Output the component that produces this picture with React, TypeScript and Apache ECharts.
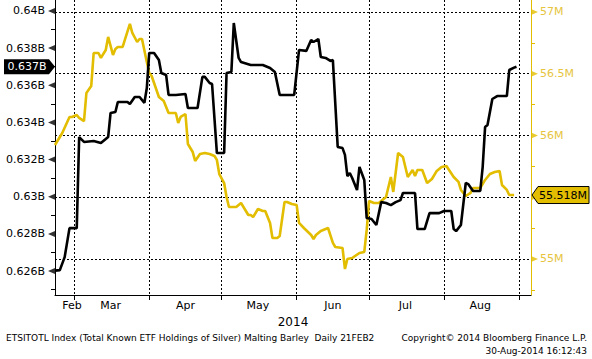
import React, { useEffect, useRef } from 'react';
import * as echarts from 'echarts';

const blackDates = ['2014-02-21','2014-02-23','2014-02-25','2014-02-27','2014-03-02','2014-03-03','2014-03-05','2014-03-09','2014-03-12','2014-03-15','2014-03-16','2014-03-18','2014-03-19','2014-03-23','2014-03-24','2014-03-26','2014-03-28','2014-03-30','2014-03-31','2014-04-01','2014-04-03','2014-04-05','2014-04-06','2014-04-08','2014-04-09','2014-04-12','2014-04-16','2014-04-17','2014-04-21','2014-04-23','2014-04-24','2014-04-26','2014-04-27','2014-04-29','2014-05-02','2014-05-03','2014-05-05','2014-05-06','2014-05-08','2014-05-09','2014-05-13','2014-05-18','2014-05-21','2014-05-23','2014-05-25','2014-05-31','2014-06-02','2014-06-05','2014-06-07','2014-06-08','2014-06-10','2014-06-11','2014-06-13','2014-06-15','2014-06-16','2014-06-18','2014-06-20','2014-06-21','2014-06-22','2014-06-23','2014-06-24','2014-06-26','2014-06-27','2014-06-29','2014-06-30','2014-07-02','2014-07-04','2014-07-06','2014-07-08','2014-07-10','2014-07-12','2014-07-14','2014-07-15','2014-07-20','2014-07-21','2014-07-24','2014-07-26','2014-07-30','2014-08-01','2014-08-04','2014-08-05','2014-08-06','2014-08-08','2014-08-10','2014-08-11','2014-08-13','2014-08-16','2014-08-17','2014-08-18','2014-08-19','2014-08-21','2014-08-23','2014-08-27','2014-08-28','2014-08-30','2014-08-31'];
const blackValues = [0.62602,0.62605,0.62675,0.62831,0.62831,0.63321,0.63295,0.633,0.63289,0.63321,0.63451,0.63456,0.6351,0.6351,0.63499,0.63537,0.63537,0.63505,0.63585,0.63774,0.63774,0.63736,0.63666,0.63655,0.63548,0.63548,0.63553,0.63478,0.63478,0.63645,0.63645,0.63612,0.63607,0.63235,0.63235,0.63666,0.63672,0.63935,0.63747,0.63725,0.63709,0.63709,0.63693,0.63672,0.63548,0.63548,0.6379,0.63785,0.63844,0.63833,0.63849,0.63752,0.63747,0.63731,0.63736,0.63268,0.63262,0.63225,0.63111,0.63128,0.63101,0.63036,0.6316,0.6309,0.62885,0.6288,0.62848,0.62971,0.62966,0.62955,0.62971,0.62982,0.6302,0.6302,0.62826,0.62826,0.62912,0.62912,0.62923,0.62923,0.62826,0.62815,0.62848,0.63074,0.63068,0.63031,0.63031,0.6316,0.63375,0.63386,0.63526,0.63542,0.63542,0.63682,0.63695,0.637];

const yellowDates = ['2014-02-21','2014-02-24','2014-02-27','2014-02-28','2014-03-02','2014-03-03','2014-03-05','2014-03-06','2014-03-08','2014-03-09','2014-03-11','2014-03-12','2014-03-14','2014-03-15','2014-03-17','2014-03-18','2014-03-19','2014-03-21','2014-03-22','2014-03-24','2014-03-25','2014-03-27','2014-03-28','2014-03-29','2014-03-31','2014-04-01','2014-04-02','2014-04-03','2014-04-05','2014-04-07','2014-04-09','2014-04-12','2014-04-13','2014-04-14','2014-04-16','2014-04-17','2014-04-19','2014-04-20','2014-04-22','2014-04-24','2014-04-26','2014-04-28','2014-04-29','2014-04-30','2014-05-02','2014-05-03','2014-05-04','2014-05-07','2014-05-09','2014-05-10','2014-05-12','2014-05-13','2014-05-14','2014-05-16','2014-05-18','2014-05-19','2014-05-21','2014-05-22','2014-05-24','2014-05-25','2014-05-27','2014-05-28','2014-05-30','2014-06-01','2014-06-02','2014-06-04','2014-06-07','2014-06-08','2014-06-09','2014-06-11','2014-06-14','2014-06-16','2014-06-17','2014-06-20','2014-06-21','2014-06-22','2014-06-24','2014-06-27','2014-06-29','2014-06-30','2014-07-01','2014-07-03','2014-07-05','2014-07-08','2014-07-09','2014-07-10','2014-07-11','2014-07-13','2014-07-15','2014-07-17','2014-07-19','2014-07-20','2014-07-21','2014-07-23','2014-07-25','2014-07-27','2014-07-29','2014-07-31','2014-08-02','2014-08-05','2014-08-07','2014-08-08','2014-08-10','2014-08-12','2014-08-13','2014-08-16','2014-08-18','2014-08-20','2014-08-22','2014-08-24','2014-08-25','2014-08-27','2014-08-28','2014-08-30'];
const yellowValues = [55.923,56.02,56.15,56.15,56.166,56.142,56.117,56.344,56.401,56.668,56.668,56.628,56.692,56.798,56.652,56.7,56.717,56.717,56.781,56.903,56.83,56.757,56.781,56.781,56.595,56.506,56.482,56.425,56.312,56.279,56.182,56.182,56.101,56.15,56.174,55.931,55.866,55.794,55.85,55.858,55.85,55.834,55.802,55.688,55.615,55.502,55.421,55.421,55.453,55.421,55.356,55.356,55.34,55.405,55.389,55.389,55.292,55.17,55.17,55.186,55.462,55.462,55.445,55.437,55.292,55.251,55.194,55.162,55.194,55.227,55.251,55.13,55.097,55.089,54.919,55.0,55.008,55.049,55.057,55.235,55.47,55.453,55.453,55.502,55.583,55.664,55.543,55.858,55.826,55.664,55.721,55.672,55.721,55.721,55.615,55.648,55.713,55.745,55.753,55.664,55.624,55.559,55.51,55.535,55.575,55.575,55.64,55.688,55.704,55.713,55.599,55.559,55.518,55.518];

const leftTicks = [0.626, 0.628, 0.63, 0.632, 0.634, 0.636, 0.638, 0.64];
const leftMinorTicks = [0.625, 0.627, 0.629, 0.631, 0.633, 0.635, 0.637, 0.639];
const rightTicks = [55, 55.5, 56, 56.5, 57];
const rightLabelValues = [55, 56, 56.5, 57];
const rightMinorTicks = [54.75, 55.25, 55.75, 56.25, 56.75];
const monthStarts = ['2014-03-01','2014-04-01','2014-05-01','2014-06-01','2014-07-01','2014-08-01','2014-09-01'];
const monthLabelDates = ['2014-02-28','2014-03-16','2014-04-16','2014-05-16','2014-06-16','2014-07-16','2014-08-16'];
const monthNames = ['Feb','Mar','Apr','May','Jun','Jul','Aug'];
const yearLabel = '2014';
const xStart = '2014-02-21';
const xEnd = '2014-09-06';
const leftRange = [0.62471, 0.64059];
const rightRange = [54.7085, 57.097];
const blackFlag = '0.637B';
const yellowFlag = '55.518M';
const footerLeft = 'ETSITOTL Index (Total Known ETF Holdings of Silver) Malting Barley  Daily 21FEB2';
const footerRight1 = 'Copyright\u00A9 2014 Bloomberg Finance L.P.';
const footerRight2 = '30-Aug-2014 16:12:43';

const YELLOW = '#E2BD00';
const YELLOW_TEXT = '#E6C440';
const FONT = '"DejaVu Sans", Verdana, sans-serif';

const ts = (s: string) => {
  const [y, m, d] = s.split('-').map(Number);
  return Date.UTC(y, m - 1, d);
};

export default function App() {
  const ref = useRef<HTMLDivElement>(null);
  useEffect(() => {
    if (!ref.current) return;
    const chart = echarts.init(ref.current, undefined, { renderer: 'svg' });
    const xMin = ts(xStart);
    const xMax = ts(xEnd);
    const labelTs = monthLabelDates.map(ts);
    const dotted = { color: '#000', width: 1, type: [2, 2] as any };
    const tri = (dir: 'l' | 'r') => dir === 'l' ? 'path://M0,3 L7,0 L7,6 Z' : 'path://M0,0 L7,3 L0,6 Z';
    const option: any = {
      animation: false,
      backgroundColor: '#fff',
      grid: { left: 55, right: 61, top: 0, bottom: 64 },
      xAxis: {
        type: 'value', min: xMin, max: xMax, scale: true,
        axisLine: { lineStyle: { color: '#000', width: 1 } },
        axisTick: { show: true, length: 5, customValues: monthStarts.map(ts), lineStyle: { color: '#000' } },
        splitLine: { show: true, lineStyle: dotted },
        axisLabel: {
          customValues: labelTs, margin: 5, color: '#000', fontFamily: FONT, fontSize: 11,
          formatter: (v: number) => { const i = labelTs.indexOf(v); return i >= 0 ? monthNames[i] : ''; },
        },
        name: yearLabel, nameLocation: 'middle', nameGap: 20,
        nameTextStyle: { color: '#000', fontFamily: FONT, fontSize: 12 },
      },
      yAxis: [
        {
          type: 'value', position: 'left', min: leftRange[0], max: leftRange[1],
          axisLine: { show: true, lineStyle: { color: '#000' } },
          axisTick: { show: false, customValues: leftTicks },
          splitLine: { show: false },
          axisLabel: { customValues: leftTicks, margin: 10, color: '#000', fontFamily: FONT, fontSize: 11,
            formatter: (v: number) => `${+v.toFixed(3)}B` },
        },
        {
          type: 'value', position: 'right', min: rightRange[0], max: rightRange[1],
          axisLine: { show: true, lineStyle: { color: YELLOW } },
          axisTick: { show: false, customValues: rightTicks },
          splitLine: { show: true, lineStyle: dotted },
          axisLabel: { customValues: rightLabelValues, margin: 9, color: YELLOW_TEXT, fontFamily: FONT, fontSize: 11,
            formatter: (v: number) => `${v}M` },
        },
        {
          type: 'value', position: 'left', min: leftRange[0], max: leftRange[1],
          axisLine: { show: false },
          axisTick: { show: true, length: 4, customValues: leftMinorTicks, lineStyle: { color: '#000' } },
          splitLine: { show: false }, axisLabel: { show: false },
        },
        {
          type: 'value', position: 'right', min: rightRange[0], max: rightRange[1],
          axisLine: { show: false },
          axisTick: { show: true, length: 4, customValues: rightMinorTicks, lineStyle: { color: YELLOW } },
          splitLine: { show: false }, axisLabel: { show: false },
        },
      ],
      series: [
        {
          type: 'line', yAxisIndex: 1, showSymbol: false, symbol: 'none', z: 3,
          data: yellowDates.map((d, i) => [ts(d), yellowValues[i]]),
          lineStyle: { color: YELLOW, width: 2.6 },
        },
        {
          type: 'line', yAxisIndex: 0, showSymbol: false, symbol: 'none', z: 4,
          data: blackDates.map((d, i) => [ts(d), blackValues[i]]),
          lineStyle: { color: '#000', width: 2.6 },
        },
        {
          type: 'scatter', yAxisIndex: 0, clip: false, silent: true, z: 6,
          symbol: tri('l'), symbolSize: [7, 6], symbolOffset: [-3.5, 0],
          itemStyle: { color: '#000' },
          data: leftTicks.map((v) => [xMin, v]),
        },
        {
          type: 'scatter', yAxisIndex: 1, clip: false, silent: true, z: 6,
          symbol: tri('r'), symbolSize: [7, 6], symbolOffset: [3.5, 0],
          itemStyle: { color: YELLOW },
          data: rightTicks.map((v) => [xMax, v]),
        },
      ],
    };
    chart.setOption(option);

    const xl = chart.convertToPixel({ xAxisIndex: 0 }, xMin) as number;
    const xr = chart.convertToPixel({ xAxisIndex: 0 }, xMax) as number;
    const yb = chart.convertToPixel({ yAxisIndex: 0 }, blackValues[blackValues.length - 1]) as number;
    const yy = chart.convertToPixel({ yAxisIndex: 1 }, yellowValues[yellowValues.length - 1]) as number;
    const txt = (text: string, x: number, y: number, align: string, fill: string, size: number, z = 20) => ({
      type: 'text', z, silent: true,
      style: { text, x, y, fill, font: `${size}px ${FONT}`, align, textAlign: align, verticalAlign: 'middle', textVerticalAlign: 'middle' },
    });
    chart.setOption({
      graphic: [
        {
          type: 'polygon', z: 15, silent: true,
          shape: { points: [[xl - 51, yb - 7.5], [xl - 6, yb - 7.5], [xl, yb], [xl - 6, yb + 7.5], [xl - 51, yb + 7.5]] },
          style: { fill: '#000' },
        },
        txt(blackFlag, xl - 28, yb, 'center', '#fff', 11),
        {
          type: 'polygon', z: 15, silent: true,
          shape: { points: [[xr + 1, yy], [xr + 7, yy - 8.5], [xr + 58, yy - 8.5], [xr + 58, yy + 8.5], [xr + 7, yy + 8.5]] },
          style: { fill: YELLOW, stroke: '#000', lineWidth: 1 },
        },
        txt(yellowFlag, xr + 32, yy, 'center', '#000', 11),
        txt(footerLeft, 6, 338, 'left', '#000', 9),
        txt(footerRight1, 587, 338, 'right', '#000', 9),
        txt(footerRight2, 587, 351, 'right', '#000', 9),
      ],
    });
    return () => chart.dispose();
  }, []);
  return <div ref={ref} style={{ position: 'fixed', left: 0, top: 0, width: 592, height: 359 }} />;
}
